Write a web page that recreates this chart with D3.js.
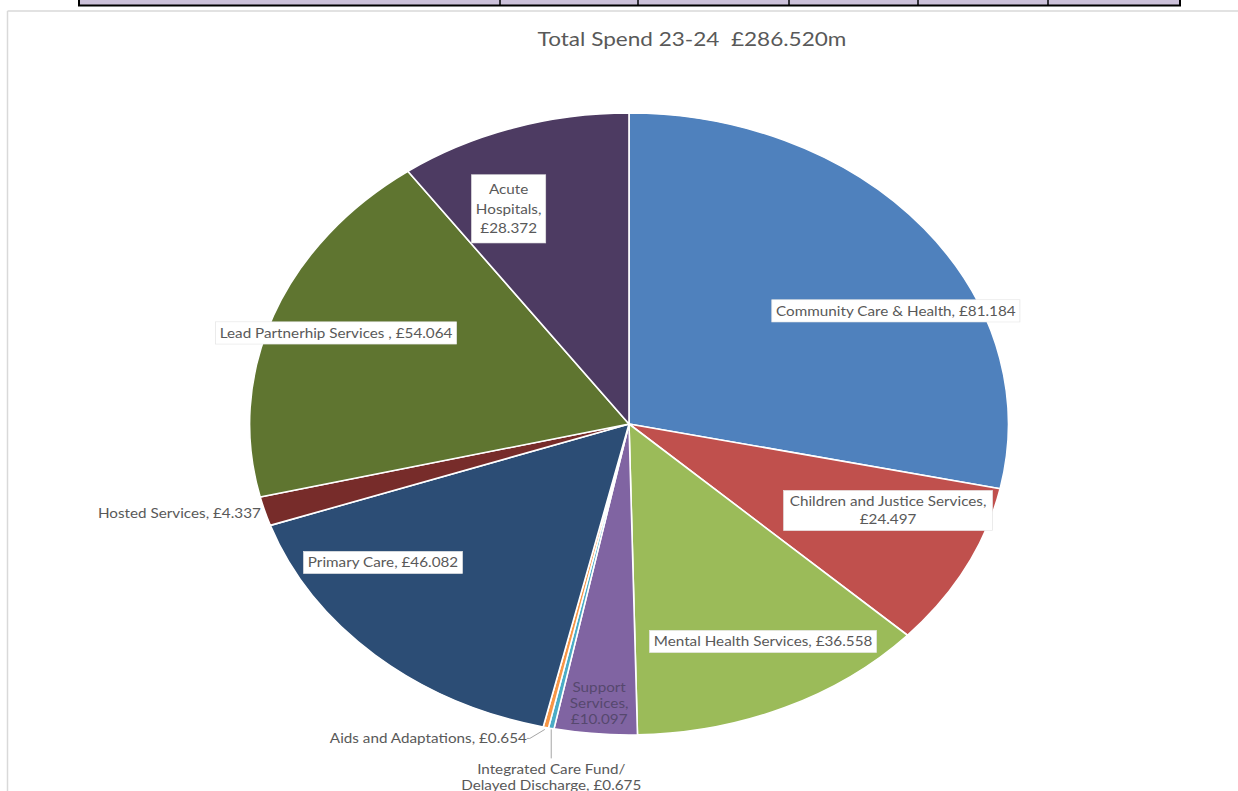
<!DOCTYPE html>
<html>
<head>
<meta charset="utf-8">
<script src="https://cdn.jsdelivr.net/npm/d3@7"></script>
<style>
  html, body { margin: 0; padding: 0; background: #ffffff; }
  svg { display: block; }
  text { font-family: "Lato", "Open Sans", "DejaVu Sans", sans-serif; white-space: pre; }
</style>
</head>
<body>
<svg id="chart" width="1238" height="791"></svg>
<script>
// Spend by service area, 2023-24 (£m), clockwise from 12 o'clock
const categories = [
  "Community Care & Health",
  "Children and Justice Services",
  "Mental Health Services",
  "Support Services",
  "Integrated Care Fund/ Delayed Discharge",
  "Aids and Adaptations",
  "Primary Care",
  "Hosted Services",
  "Lead Partnerhip Services ",
  "Acute Hospitals"
];
const spend = [81.184, 24.497, 36.558, 10.097, 0.675, 0.654, 46.082, 4.337, 54.064, 28.372];
const sliceColors = [
  "#4f81bd", "#c0504d", "#9bbb59", "#8064a2", "#4bacc6",
  "#f79646", "#2c4d75", "#772c2a", "#5f7530", "#4d3b62"
];
const titleText = "Total Spend 23-24  £286.520m";

// How each data label is set: words per line, whether it sits in a white box,
// and where it goes (offset from the pie centre in radius units, or tied to the slice edge)
const labelStyle = [
  { lines: [6],       box: true,  at: [0.858, -0.362] },
  { lines: [4, 1],    box: true,  at: [0.833, 0.280], padX: 5 },
  { lines: [4],       box: true,  at: [0.431, 0.701] },
  { lines: [1, 1, 1], box: false, at: [-0.096, 0.900], lh: 16, fill: "#56486e" },
  { lines: [3, 3],    box: false, leader: "below", lh: 16 },
  { lines: [4],       box: false, leader: "left" },
  { lines: [3],       box: true,  at: [-0.791, 0.447] },
  { lines: [3],       box: false, leader: "outside" },
  { lines: [5],       box: true,  at: [-0.942, -0.291] },
  { lines: [1, 1, 1], box: true,  at: [-0.387, -0.690], lh: 19.5, padY: 7 }
];

// Column rules of the table row that sits above the chart
const tableCols = [79, 500, 638, 789, 918, 1048, 1180];

const W = 1238, H = 791;
const cx = 629, cy = 424, R = 311, sx = 1.22;
const textGrey = "#595959";
const fmt = d3.format(".3f");

const svg = d3.select("#chart");
svg.append("rect").attr("width", W).attr("height", H).attr("fill", "#ffffff");

// Table row fragment at the top edge
const tbl = svg.append("g");
tbl.append("rect")
  .attr("x", tableCols[0]).attr("y", -4)
  .attr("width", tableCols[tableCols.length - 1] - tableCols[0]).attr("height", 9.5)
  .attr("fill", "#ccc1da").attr("stroke", "#000").attr("stroke-width", 2);
tbl.selectAll("line.col").data(tableCols.slice(1, -1)).join("line")
  .attr("class", "col")
  .attr("x1", d => d).attr("x2", d => d).attr("y1", -4).attr("y2", 5.5)
  .attr("stroke", "#000").attr("stroke-width", 1.5);

// Chart area frame
svg.append("line").attr("x1", 7.5).attr("x2", W).attr("y1", 11).attr("y2", 11)
  .attr("stroke", "#d9d9d9").attr("stroke-width", 1.5);
svg.append("line").attr("x1", 7.5).attr("x2", 7.5).attr("y1", 11).attr("y2", H)
  .attr("stroke", "#d9d9d9").attr("stroke-width", 1.5);

// Title
svg.append("text")
  .attr("transform", `translate(692,46) scale(${sx},1)`)
  .attr("text-anchor", "middle")
  .attr("font-size", 18.5)
  .attr("fill", textGrey)
  .text(titleText);

// Pie, drawn on a unit circle and stretched horizontally
const data = categories.map((c, i) => ({ name: c, value: spend[i], color: sliceColors[i], style: labelStyle[i] }));
const pie = d3.pie().sort(null).value(d => d.value).startAngle(0).endAngle(2 * Math.PI);
const arcs = pie(data);
const arc = d3.arc().innerRadius(0).outerRadius(R);

const pieG = svg.append("g").attr("transform", `translate(${cx},${cy}) scale(${sx},1)`);
pieG.selectAll("path").data(arcs).join("path")
  .attr("d", arc)
  .attr("fill", d => d.data.color)
  .attr("stroke", "#ffffff")
  .attr("stroke-width", 1.6)
  .attr("stroke-linejoin", "round")
  .attr("vector-effect", "non-scaling-stroke");

// Point on the slice rim at its mid angle, in page coordinates
function rimPoint(a) {
  const m = (a.startAngle + a.endAngle) / 2;
  return [cx + sx * R * Math.sin(m), cy - R * Math.cos(m)];
}

function labelLines(d) {
  const words = `${d.data.name}, £${fmt(d.data.value)}`.split(" ");
  const out = [];
  let k = 0;
  d.data.style.lines.forEach(n => {
    out.push(words.slice(k, k + n).join(" "));
    k += n;
  });
  return out;
}

const labelsG = svg.append("g");
arcs.forEach(d => {
  const st = d.data.style;
  const lines = labelLines(d);
  const lh = st.lh || 18;
  const fs = 12.5;
  let px, py, anchor = "middle";
  const rim = rimPoint(d);

  if (st.at) {
    px = cx + st.at[0] * R;
    py = cy + st.at[1] * R;
  } else if (st.leader === "outside") {
    px = rim[0] - 4;
    py = rim[1] + 2;
    anchor = "end";
  } else if (st.leader === "left") {
    px = rim[0] - 19;
    py = rim[1] + 11;
    anchor = "end";
    labelsG.append("polyline")
      .attr("points", [[rim[0] - 1, rim[1] + 2], [px + 3, py], [px, py]].map(p => p.join(",")).join(" "))
      .attr("fill", "none").attr("stroke", "#a6a6a6").attr("stroke-width", 1);
  } else if (st.leader === "below") {
    px = rim[0];
    py = rim[1] + 49;
    labelsG.append("line")
      .attr("x1", rim[0]).attr("x2", rim[0]).attr("y1", rim[1] + 1).attr("y2", rim[1] + 30)
      .attr("stroke", "#a6a6a6").attr("stroke-width", 1);
  }

  const g = labelsG.append("g").attr("transform", `translate(${px},${py}) scale(${sx},1)`);
  const boxRect = st.box ? g.append("rect") : null;
  const t = g.append("text")
    .attr("text-anchor", anchor)
    .attr("font-size", fs)
    .attr("fill", st.fill || textGrey);
  const y0 = -((lines.length - 1) * lh) / 2;
  lines.forEach((ln, i) => {
    t.append("tspan").attr("x", 0).attr("y", y0 + i * lh).attr("dy", "0.35em").text(ln);
  });
  if (boxRect) {
    const bb = t.node().getBBox();
    const padX = st.padX || 3.5, padY = st.padY || 3.5;
    boxRect
      .attr("x", bb.x - padX).attr("y", bb.y - padY)
      .attr("width", bb.width + 2 * padX).attr("height", bb.height + 2 * padY)
      .attr("fill", "#ffffff")
      .attr("stroke", "#e4e4e4").attr("stroke-width", 0.6);
  }
});
</script>
</body>
</html>
